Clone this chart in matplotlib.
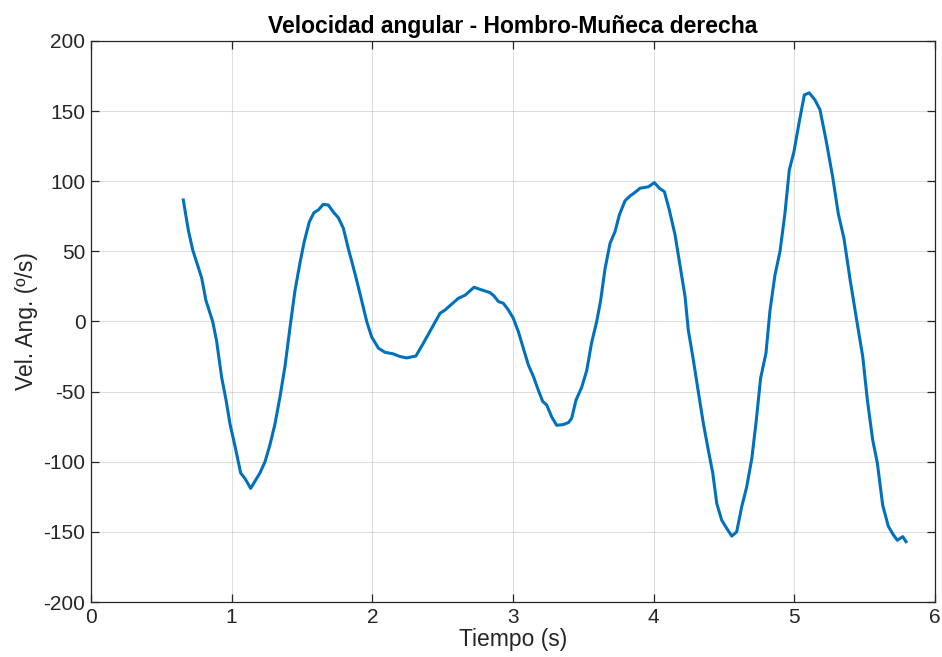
import matplotlib
matplotlib.use('Agg')
import matplotlib.pyplot as plt

# angular velocity of the right shoulder-wrist segment (deg/s) over time (s)
tiempo = [0.656, 0.692, 0.723, 0.787, 0.817, 0.865, 0.893, 0.929, 0.960, 0.988,
          1.024, 1.064, 1.095, 1.135, 1.201, 1.237, 1.272, 1.308, 1.343, 1.379,
          1.415, 1.450, 1.486, 1.516, 1.552, 1.585, 1.616, 1.651, 1.687, 1.723,
          1.758, 1.794, 1.829, 1.877, 1.924, 1.960, 1.995, 2.043, 2.090, 2.145,
          2.197, 2.244, 2.310, 2.362, 2.410, 2.481, 2.517, 2.576, 2.611, 2.659,
          2.723, 2.777, 2.836, 2.865, 2.896, 2.931, 2.967, 3.002, 3.038, 3.073,
          3.109, 3.144, 3.180, 3.211, 3.239, 3.275, 3.310, 3.357, 3.395, 3.417,
          3.448, 3.488, 3.524, 3.559, 3.595, 3.623, 3.654, 3.690, 3.725, 3.756,
          3.796, 3.832, 3.867, 3.903, 3.962, 4.005, 4.040, 4.076, 4.111, 4.152,
          4.187, 4.223, 4.246, 4.282, 4.317, 4.353, 4.388, 4.420, 4.448, 4.483,
          4.519, 4.555, 4.590, 4.626, 4.661, 4.697, 4.727, 4.760, 4.798, 4.827,
          4.862, 4.898, 4.933, 4.964, 4.997, 5.035, 5.071, 5.106, 5.146, 5.182,
          5.225, 5.272, 5.312, 5.353, 5.396, 5.443, 5.486, 5.519, 5.557, 5.590,
          5.628, 5.668, 5.703, 5.732, 5.770, 5.794]
vel_ang = [86.6, 65, 51, 31, 15, 0, -14, -40, -56, -73,
           -89, -108, -112, -119, -108, -100, -88, -73, -54, -32,
           -4, 22, 42, 57, 71, 77.6, 79.5, 83.5, 83, 78,
           74, 66.5, 52, 34, 15, 0, -11, -19, -22, -23,
           -25, -26, -24.6, -15.6, -7, 5.8, 8.2, 13.4, 16.5, 18.7,
           24.4, 22.5, 20.6, 18.2, 14.2, 13, 8.2, 2.3, -7.3, -19,
           -31, -39, -49, -57, -59.5, -68, -74, -73.5, -72, -69,
           -56, -47, -35, -15, 0, 15, 37.5, 55.8, 64, 76,
           86, 89.5, 92, 95, 96, 99, 95, 92.6, 79.5, 61.7,
           40, 17.7, -6, -27.5, -50, -72.6, -91.6, -108, -129.6, -141.5,
           -147.5, -153, -150, -132, -118, -98, -72.6, -40.5, -22.7, 8,
           33, 50, 77, 108, 121, 142.5, 161.5, 163, 158, 151,
           129.4, 103.3, 77, 59, 30, 1, -25, -56, -84.5, -101,
           -131, -146, -152, -156, -153.4, -157]

x_ticks = [0, 1, 2, 3, 4, 5, 6]
y_ticks = [-200, -150, -100, -50, 0, 50, 100, 150, 200]

plt.rcParams['font.family'] = ['Liberation Sans', 'DejaVu Sans']
plt.rcParams['axes.unicode_minus'] = False

fig = plt.figure(figsize=(9.42, 6.57), dpi=100)
ax = fig.add_axes([0.0966, 0.0837, 0.896, 0.854])

ax.plot(tiempo, vel_ang, color='#0072BD', lw=2.2)

ax.set_xlim(0, 6)
ax.set_ylim(-200, 200)
ax.set_xticks(x_ticks)
ax.set_yticks(y_ticks)
ax.grid(True, color='#262626', alpha=0.15, lw=0.8)
ax.set_axisbelow(True)

for side in ax.spines.values():
    side.set_color('#262626')
    side.set_linewidth(0.9)
ax.tick_params(direction='in', length=6, width=0.9, colors='#262626',
               labelsize=15, top=True, right=True, pad=4)

ax.set_xlabel('Tiempo (s)', fontsize=16.5, color='#262626', labelpad=1)
ax.set_ylabel('Vel. Ang. (º/s)', fontsize=16.5, color='#262626', labelpad=4)
ax.set_title('Velocidad angular - Hombro-Muñeca derecha', fontsize=16.5,
             fontweight='bold', pad=6)

fig.savefig('out.png', dpi=100)
